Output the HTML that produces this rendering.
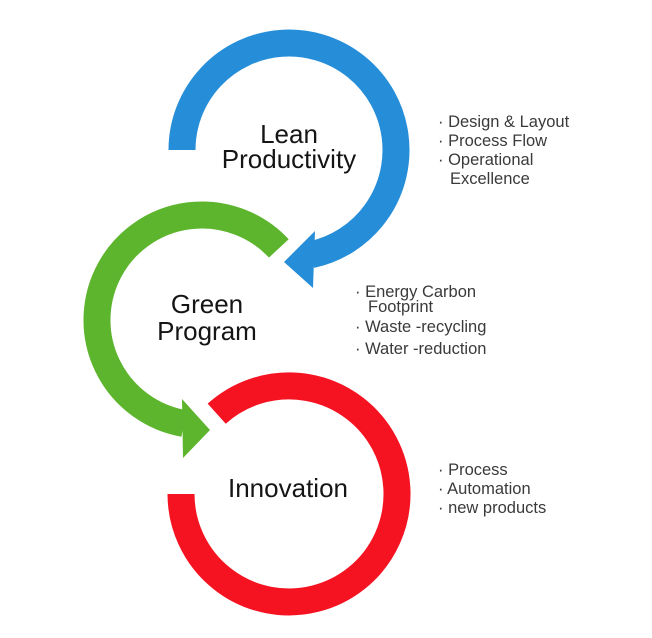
<!DOCTYPE html>
<html><head><meta charset="utf-8"><style>
html,body{margin:0;padding:0;background:#fff;}
svg{display:block;}
text{font-family:"Liberation Sans",Arial,sans-serif;}
.big{font-size:26px;fill:#151515;}
.sm{font-size:16.5px;fill:#3a3a3a;}
</style></head><body>
<svg width="652" height="638" viewBox="0 0 652 638" xmlns="http://www.w3.org/2000/svg">
<!-- Blue -->
<path d="M182 150 A107 107 0 1 1 311.2 254.7" fill="none" stroke="#268ed8" stroke-width="27"/>
<polygon points="315,231 313,288 284,262" fill="#268ed8"/>
<!-- Green -->
<path d="M278.8 248.4 A105 105 0 1 0 183.8 423.4" fill="none" stroke="#5db52e" stroke-width="27"/>
<polygon points="182,399 183,458 210,430" fill="#5db52e"/>
<!-- Red -->
<path d="M181 494 A108 108 0 1 0 216.7 413.7" fill="none" stroke="#f51321" stroke-width="27"/>

<text class="big" x="289" y="143" text-anchor="middle">Lean</text>
<text class="big" x="289" y="168" text-anchor="middle">Productivity</text>
<text class="big" x="207" y="313" text-anchor="middle">Green</text>
<text class="big" x="207" y="340" text-anchor="middle">Program</text>
<text class="big" x="288" y="497" text-anchor="middle">Innovation</text>

<text class="sm" x="438" y="127">· Design &amp; Layout</text>
<text class="sm" x="438" y="146">· Process Flow</text>
<text class="sm" x="438" y="165">· Operational</text>
<text class="sm" x="450" y="184">Excellence</text>

<text class="sm" x="355" y="297">· Energy Carbon</text>
<text class="sm" x="368" y="312">Footprint</text>
<text class="sm" x="355" y="332">· Waste -recycling</text>
<text class="sm" x="355" y="354">· Water -reduction</text>

<text class="sm" x="438" y="475">· Process</text>
<text class="sm" x="438" y="494">· Automation</text>
<text class="sm" x="438" y="513">· new products</text>
</svg>
</body></html>
